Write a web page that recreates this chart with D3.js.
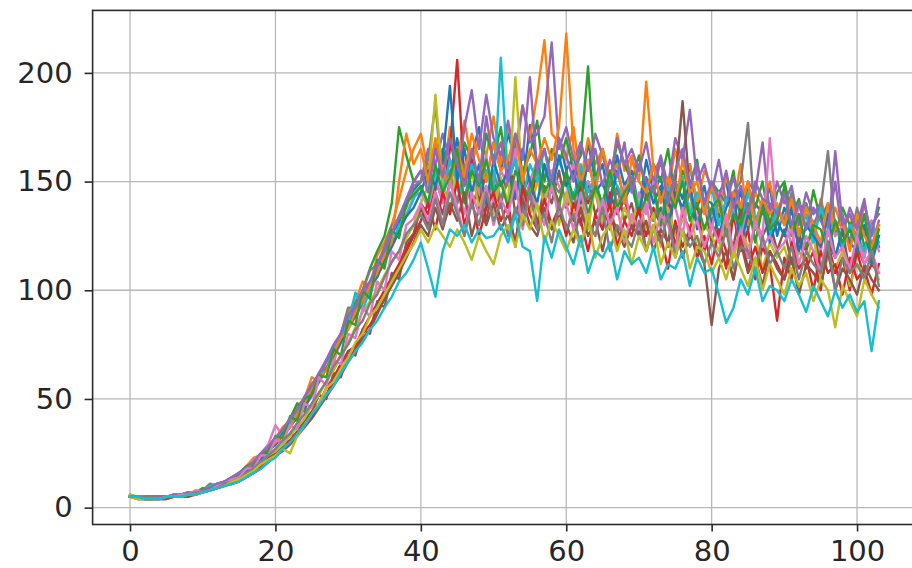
<!DOCTYPE html>
<html>
<head>
<meta charset="utf-8">
<script src="https://cdn.jsdelivr.net/npm/d3@7"></script>
<style>
  body { margin: 0; background: #fff; }
  svg { display: block; }
</style>
</head>
<body>
<svg id="chart" width="912" height="568"></svg>
<script>
// Tick values
const xTicks = [0, 20, 40, 60, 80, 100];
const yTicks = [0, 50, 100, 150, 200];

// Line colours (tab10 cycle)
const palette = ["#1f77b4", "#ff7f0e", "#2ca02c", "#d62728", "#9467bd",
                 "#8c564b", "#e377c2", "#7f7f7f", "#bcbd22", "#17becf"];

// Runs, one value per step 0..103
const run00 = [5,5,4,4,5,5,5,6,7,7, 8,9,10,11,13, 15,16,20,22,26,29,33,38,41,47,54,58,64,69,79,83,91,98,101,111,114,126,131,141,146,
  150,158,146,165,152,170,148,162,175,150, 168,155,172,160,148,176,158,165,150,170, 155,162,145,168,150,158,140,162,148,155,
  138,160,145,152,135,150,142,158,138,148, 130,145,150,132,146,128,140,135,148,125, 138,130,122,140,128,135,120,132,118,130, 125,115,132,120];
const run01 = [5,5,5,5,5,5,6,6,7,7, 8,10,11,12,14, 16,19,23,24,29,32,37,40,47,50,60,58,68,66,80,90,95,104,102,116,122,130,142,155,165,
  172,155,168,150,175,160,178,158,170,162, 180,158,175,165,185,170,190,215,172,168, 160,175,150,170,158,165,148,172,155,162,
  150,196,155,160,145,165,150,158,140,155, 148,135,152,140,158,130,145,138,150,132, 145,128,140,135,125,142,130,138,128,135, 122,140,125,130];
const run02 = [6,5,5,5,4,5,5,6,6,7, 9,9,10,12,13, 15,18,20,24,26,30,35,41,48,44,55,62,63,73,78,88,94,100,110,118,125,140,175,162,150,
  155,148,165,158,170,152,168,160,148,172, 160,175,150,168,155,162,178,150,165,158, 170,155,162,203,150,165,148,168,158,150,
  162,145,158,150,165,142,155,148,160,138, 150,145,140,155,132,148,138,150,130,145, 150,135,142,128,146,132,140,125,138,130, 135,120,128,138];
const run03 = [5,4,4,4,4,5,5,5,6,7, 7,8,9,10,12, 13,15,17,19,23,25,29,31,35,40,44,48,55,60,66,72,74,82,88,94,100,106,112,120,125,
  140,135,150,142,165,206,150,160,140,155, 148,138,160,145,152,135,158,142,150,140, 155,132,148,140,150,128,145,135,142,130,
  140,125,138,130,142,120,135,128,140,118, 130,125,110,135,118,128,105,120,112,86, 115,105,125,110,118,100,122,108,115,100, 118,105,112,108];
const run04 = [5,5,5,4,5,5,6,6,6,7, 8,9,10,12,13, 15,17,21,23,27,31,34,39,44,48,55,60,67,71,80,86,92,97,104,110,119,126,134,140,150,
  150,165,158,172,160,150,175,192,165,190, 170,162,178,160,185,168,172,180,214,165, 175,160,168,155,172,162,150,170,158,165,
  155,168,150,162,148,170,160,183,150,158, 145,160,140,152,138,150,145,168,135,150, 140,148,130,145,135,140,128,150,125,138, 130,142,120,132];
const run05 = [5,5,4,4,4,5,5,5,6,6, 7,8,9,10,12, 13,16,17,21,22,26,28,34,33,41,44,52,50,62,60,72,70,82,80,95,92,108,105,122,126,
  138,130,145,135,150,140,155,138,148,132, 150,140,158,135,145,152,130,148,140,155, 138,145,130,150,135,142,128,148,132,140,
  125,145,132,138,120,150,187,145,130,140, 122,135,128,120,138,115,130,125,132,118, 128,112,125,118,130,110,122,115,128,108, 120,112,118,125];
const run06 = [5,5,5,4,5,5,5,6,6,7, 8,9,11,12,14, 16,18,22,25,29,38,33,37,42,47,51,58,64,68,76,82,88,94,98,107,112,120,127,135,143,
  145,138,152,140,160,148,135,155,145,162, 140,155,148,165,138,150,160,142,155,148, 140,158,135,150,145,130,152,140,148,128,
  145,135,150,128,142,138,125,148,132,140, 128,145,130,138,122,140,132,125,170,130, 135,120,140,128,132,118,136,125,130,120, 128,115,132,118];
const run07 = [5,5,5,5,5,5,5,6,6,7, 8,11,10,12,13, 16,19,21,25,28,31,35,40,45,51,57,61,68,72,80,92,92,100,109,112,120,130,133,138,148,
  150,160,185,148,155,140,158,145,150,138, 155,142,150,160,135,148,155,140,150,145, 150,138,155,142,148,135,150,145,140,152,
  138,148,132,145,140,150,135,145,130,142, 135,140,128,145,150,177,130,142,128,138, 132,145,125,140,130,138,164,128,135,122, 138,125,130,135];
const run08 = [6,5,5,5,5,5,6,6,7,7, 8,9,10,11,13, 14,16,18,21,24,26,29,33,37,41,47,52,58,63,70,76,83,90,95,100,107,113,118,124,130,
  140,148,190,150,135,160,142,155,138,148, 135,152,140,198,148,135,150,140,155,130, 145,135,140,128,148,132,140,125,138,130,
  142,128,135,120,138,125,132,140,118,130, 125,118,132,115,128,120,125,110,122,115, 120,108,118,112,125,105,115,110,118,102, 112,108,115,105];
const run09 = [5,5,5,5,5,5,6,6,7,7, 8,10,11,12,14, 16,18,21,24,28,31,34,40,43,50,55,60,64,72,78,85,99,91,100,108,116,121,130,134,142,
  148,140,155,145,160,150,142,158,148,155, 145,207,150,160,142,158,150,165,148,160, 150,142,158,145,152,138,155,148,142,150,
  138,150,145,132,148,140,152,135,145,138, 148,130,142,135,128,145,132,140,125,138, 130,140,125,135,122,138,128,132,120,130, 125,118,130,122];
const run10 = [5,5,5,5,5,5,5,6,6,7, 8,9,10,11,13, 15,17,19,23,26,29,34,37,42,46,52,58,64,70,76,83,88,95,102,106,114,120,127,134,138,
  145,155,148,160,194,150,165,145,158,140, 160,148,155,142,165,150,140,158,145,162, 148,155,140,160,145,150,138,155,142,148,
  135,152,140,148,130,145,138,150,128,142, 140,125,138,145,120,135,128,140,122,132, 125,138,118,130,125,120,135,115,128,122, 118,130,112,125];
const run11 = [5,5,4,5,5,5,5,6,6,7, 8,9,10,12,13, 15,18,20,24,27,30,33,37,43,48,55,60,63,71,78,82,90,95,102,108,116,122,150,172,158,
  165,150,170,155,148,165,152,172,160,150, 168,155,160,172,150,165,158,170,160,175, 218,165,150,160,145,165,152,158,140,160,
  150,145,158,140,152,138,160,145,150,135, 148,140,130,145,138,150,128,142,135,140, 130,142,125,138,130,122,140,128,132,118, 135,125,120,130];
const run12 = [5,5,5,5,5,5,5,6,6,7, 8,9,10,12,13, 15,19,20,25,26,33,32,42,40,50,52,61,60,73,70,86,84,100,96,114,110,128,124,140,144,
  148,140,158,145,152,165,140,155,148,160, 145,150,138,155,148,142,160,145,152,138, 155,142,150,135,148,140,155,138,145,150,
  135,142,148,130,145,138,150,132,140,128, 138,142,125,135,130,140,122,138,128,132, 148,125,135,120,130,128,118,132,122,128, 120,135,115,128];
const run13 = [5,5,4,4,4,4,5,5,6,6, 7,8,9,10,11, 12,14,16,18,21,24,27,30,34,38,42,47,52,58,62,68,73,80,84,90,96,104,110,118,125,
  132,140,128,145,135,150,130,142,125,138, 145,132,140,120,148,135,128,142,130,138, 125,140,132,118,135,128,140,120,132,125,
  138,118,130,125,110,132,120,128,115,125, 112,128,118,105,125,110,120,108,118,112, 105,122,110,115,100,118,108,112,98,115, 105,110,98,112];
const run14 = [5,5,5,5,5,5,6,6,7,7, 8,9,11,12,14, 16,18,21,25,28,32,36,41,45,51,56,62,68,75,80,88,93,100,104,112,118,126,134,142,150,
  155,145,165,152,170,158,148,165,150,180, 158,168,150,172,160,198,155,165,150,170, 162,150,168,155,165,148,160,152,168,145,
  158,150,145,160,140,155,165,148,158,140, 150,142,155,138,148,135,150,142,140,135, 145,130,140,128,138,132,125,164,130,135, 128,140,125,142];
const run15 = [5,4,4,4,4,4,5,5,5,6, 7,8,9,10,11, 12,14,16,18,21,24,26,29,33,37,41,46,51,56,61,67,72,78,82,89,96,102,108,115,122,
  130,125,138,128,140,132,145,125,138,130, 140,128,135,122,142,130,125,138,128,135, 130,122,138,125,132,118,135,128,120,130,
  125,132,118,128,122,130,115,125,120,112, 84,110,118,105,122,108,115,102,118,110, 105,115,98,112,108,102,118,100,110,105, 98,112,105,100];
const run16 = [5,5,5,4,4,5,5,6,6,8, 7,8,10,11,13, 14,18,18,24,24,31,30,38,36,48,46,60,56,68,66,80,78,92,88,104,100,118,114,130,133,
  140,132,145,130,150,138,125,145,135,148, 130,142,135,150,128,145,138,130,148,135, 140,128,145,132,125,142,130,138,122,135,
  128,140,122,135,130,118,138,125,132,120, 130,122,135,118,128,115,132,120,125,118, 122,128,112,125,118,108,128,115,120,110, 125,112,118,108];
const run17 = [5,5,5,5,4,5,5,5,6,7, 7,8,9,11,12, 13,16,18,21,24,27,31,34,39,43,48,53,58,65,70,75,82,86,94,98,106,113,118,126,130,
  135,128,142,130,145,135,125,140,130,145, 132,140,125,138,130,145,128,135,122,140, 128,135,120,132,125,138,118,130,125,120,
  132,118,128,122,135,115,128,120,125,112, 122,115,128,110,120,118,108,125,112,118, 110,120,105,118,112,108,122,100,115,108, 112,105,118,102];
const run18 = [5,4,4,4,4,5,5,5,6,6, 7,8,9,10,12, 13,15,17,20,22,24,27,25,33,38,43,48,55,58,64,69,76,80,88,92,98,104,110,116,121,
  128,122,130,125,120,128,122,114,125,118, 112,125,130,120,135,128,140,122,132,125, 118,128,120,135,115,125,130,118,128,112,
  125,118,130,112,122,115,128,110,120,118, 108,115,105,118,110,102,115,100,112,105, 98,110,102,108,95,105,100,83,102,95, 88,105,98,92];
const run19 = [5,5,4,4,4,5,5,5,6,6, 7,8,9,10,11, 12,14,16,18,21,23,27,30,34,38,43,47,52,56,62,67,72,76,82,86,92,97,104,108,114,
  122,110,97,118,128,125,130,122,128,124, 125,130,122,135,120,118,95,125,115,128, 120,112,125,108,118,115,122,105,118,112,
  115,108,120,105,112,110,118,102,115,108, 110,98,85,92,105,98,110,95,102,100, 95,105,98,90,102,95,88,100,92,98, 90,95,72,95];

const runs = [run00, run01, run02, run03, run04, run05, run06, run07, run08, run09,
              run10, run11, run12, run13, run14, run15, run16, run17, run18, run19];

const plot = { left: 92.6, right: 916.3, top: 10.4, bottom: 524.5 };

const x = d3.scaleLinear().domain([-5.15, 108.15]).range([plot.left, plot.right]);
const y = d3.scaleLinear().domain([-7.75, 228.75]).range([plot.bottom, plot.top]);

const svg = d3.select("#chart");
const font = "'DejaVu Sans', sans-serif";

// Grid
const grid = svg.append("g").attr("stroke", "#b8b8b8").attr("stroke-width", 1.3);
grid.selectAll("line.vx").data(xTicks).join("line")
  .attr("x1", d => x(d)).attr("x2", d => x(d))
  .attr("y1", plot.top).attr("y2", plot.bottom);
grid.selectAll("line.hy").data(yTicks).join("line")
  .attr("y1", d => y(d)).attr("y2", d => y(d))
  .attr("x1", plot.left).attr("x2", plot.right);

// Lines
const line = d3.line().x((d, i) => x(i)).y(d => y(d));
svg.append("g").selectAll("path").data(runs).join("path")
  .attr("d", line)
  .attr("fill", "none")
  .attr("stroke", (d, i) => palette[i % palette.length])
  .attr("stroke-width", 2.4)
  .attr("stroke-linejoin", "round")
  .attr("stroke-linecap", "square");

// Axes
const xAxis = svg.append("g")
  .attr("transform", `translate(0,${plot.bottom})`)
  .call(d3.axisBottom(x).tickValues(xTicks).tickSize(7).tickPadding(9).tickFormat(d3.format("d")));
const yAxis = svg.append("g")
  .attr("transform", `translate(${plot.left},0)`)
  .call(d3.axisLeft(y).tickValues(yTicks).tickSize(8).tickPadding(12).tickFormat(d3.format("d")));

[xAxis, yAxis].forEach(g => {
  g.select(".domain").remove();
  g.selectAll(".tick line").attr("stroke", "#2a2a2a").attr("stroke-width", 1.6);
  g.selectAll(".tick text").attr("fill", "#262626")
    .style("font-family", font).style("font-size", "29px");
});

// Frame
svg.append("rect")
  .attr("x", plot.left).attr("y", plot.top)
  .attr("width", plot.right - plot.left).attr("height", plot.bottom - plot.top)
  .attr("fill", "none").attr("stroke", "#2a2a2a").attr("stroke-width", 1.6);
</script>
</body>
</html>
